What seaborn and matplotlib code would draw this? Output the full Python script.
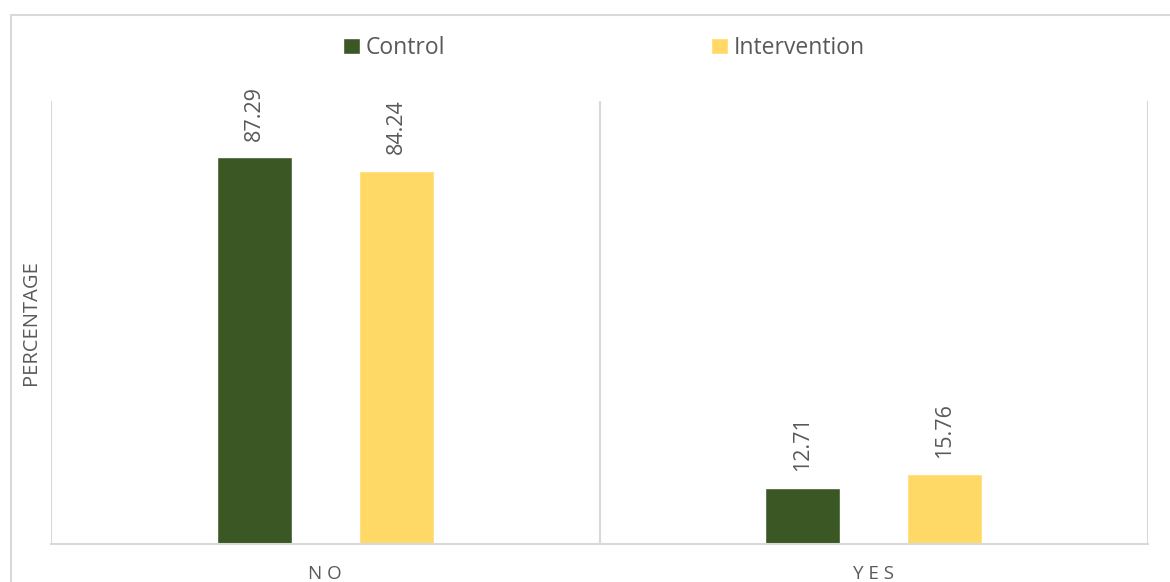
import matplotlib
matplotlib.use("Agg")
import matplotlib.pyplot as plt
from matplotlib.patches import Rectangle
import pandas as pd
import seaborn as sns

categories = ["NO", "YES"]
groups = ["Control", "Intervention"]
control_values = [87.29, 12.71]
intervention_values = [84.24, 15.76]

colors = {"Control": "#3B5724", "Intervention": "#FFD966"}
grid_color = "#D9D9D9"
text_color = "#595959"

df = pd.DataFrame({
    "answer": categories * 2,
    "group": [groups[0]] * len(categories) + [groups[1]] * len(categories),
    "value": control_values + intervention_values,
})

sns.set_style("white")
plt.rcParams["font.family"] = ["Open Sans", "DejaVu Sans"]

fig = plt.figure(figsize=(11.7, 5.82), dpi=100)
ax = fig.add_axes([51 / 1170, 1 - 544 / 582, (1148 - 51) / 1170, (544 - 101) / 582])

sns.barplot(data=df, x="answer", y="value", hue="group", order=categories,
            hue_order=groups, palette=colors, width=0.517, gap=0.47,
            saturation=1, errorbar=None, ax=ax, legend=True)

ax.set_xlim(-0.5, len(categories) - 0.5)
ax.set_ylim(0, 100)

# category separators
for xb in [i - 0.5 for i in range(len(categories) + 1)]:
    ax.axvline(xb, color=grid_color, lw=1.5, zorder=0)

for s in ["top", "right", "left"]:
    ax.spines[s].set_visible(False)
ax.spines["bottom"].set_color(grid_color)
ax.spines["bottom"].set_linewidth(1.5)

ax.set_yticks([])
ax.tick_params(axis="x", length=0, pad=15)
ax.set_xticklabels(["N O", "Y E S"], fontsize=13.5, color=text_color)
ax.set_xlabel("")
ax.set_ylabel("PERCENTAGE", fontsize=14.5, color=text_color)
ax.yaxis.set_label_coords(-0.009, 0.5)

# value labels above bars
for container in ax.containers:
    for bar in container:
        h = bar.get_height()
        ax.annotate(f"{h:.2f}", (bar.get_x() + bar.get_width() / 2, h),
                    xytext=(0, 12), textcoords="offset points",
                    rotation=90, ha="center", va="bottom",
                    fontsize=15.5, color=text_color)

handles, labels = ax.get_legend_handles_labels()
ax.legend(handles, labels, loc="center", bbox_to_anchor=(604 / 1170, 1 - 48 / 582),
          bbox_transform=fig.transFigure, ncol=2, frameon=False,
          fontsize=16.5, labelcolor=text_color, handlelength=0.75,
          handleheight=0.75, handletextpad=0.25, columnspacing=11.6)

# outer chart frame
fig.patches.append(Rectangle((11 / 1170, -0.1), 1.2, 1 - 15 / 582 + 0.1,
                             transform=fig.transFigure, fill=False,
                             edgecolor=grid_color, lw=1.5))

fig.savefig("out.png", dpi=100)
